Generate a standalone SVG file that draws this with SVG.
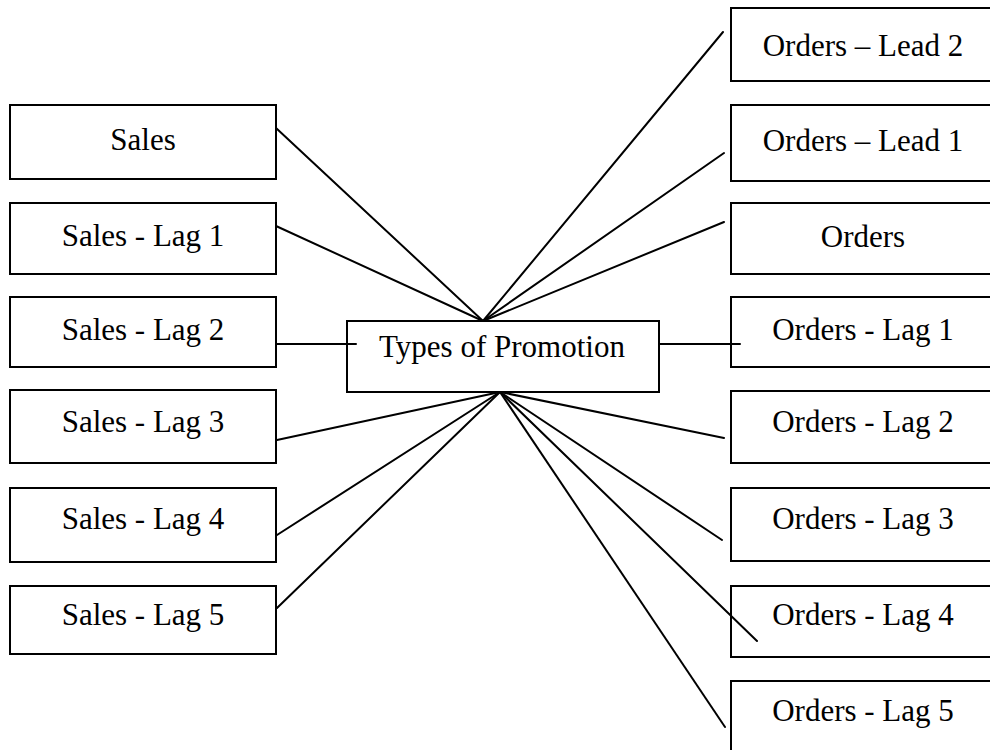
<svg xmlns="http://www.w3.org/2000/svg" width="990" height="750" viewBox="0 0 990 750">
  <style>
    .box { fill: #ffffff; stroke: #000000; stroke-width: 2; }
    .lbl { font-family: "Liberation Serif", "Times New Roman", serif; font-size: 31px; fill: #000000; text-anchor: middle; }
    .link { stroke: #000000; stroke-width: 2; fill: none; stroke-linecap: round; }
  </style>
  <rect x="0" y="0" width="990" height="750" fill="#ffffff"/>

  <!-- connectors: left column, right column and the two horizontal links -->
  <g id="connectors">
    <line class="link" x1="276" y1="128" x2="483" y2="321"/>
    <line class="link" x1="276" y1="226" x2="483" y2="321"/>
    <line class="link" x1="723" y1="32" x2="483" y2="321"/>
    <line class="link" x1="724" y1="153" x2="483" y2="321"/>
    <line class="link" x1="724" y1="222" x2="483" y2="321"/>
    <line class="link" x1="276" y1="344" x2="356" y2="344"/>
    <line class="link" x1="659" y1="344" x2="740" y2="344"/>
    <line class="link" x1="277" y1="440" x2="500" y2="392"/>
    <line class="link" x1="277" y1="535" x2="500" y2="392"/>
    <line class="link" x1="277" y1="608" x2="500" y2="392"/>
    <line class="link" x1="724" y1="438" x2="500" y2="392"/>
    <line class="link" x1="722" y1="540" x2="500" y2="392"/>
    <line class="link" x1="757" y1="641" x2="500" y2="392"/>
    <line class="link" x1="725" y1="727" x2="500" y2="392"/>
  </g>

  <!-- central node -->
  <g id="types-of-promotion">
    <rect class="box" x="347" y="321" width="312" height="71" fill-opacity="0"/>
    <text class="lbl" x="502" y="357">Types of Promotion</text>
  </g>

  <!-- left column -->
  <g id="sales">
    <rect class="box" x="10" y="105" width="266" height="74" fill-opacity="0"/>
    <text class="lbl" x="143" y="150">Sales</text>
  </g>
  <g id="sales-lag-1">
    <rect class="box" x="10" y="203" width="266" height="71" fill-opacity="0"/>
    <text class="lbl" x="143" y="246">Sales - Lag 1</text>
  </g>
  <g id="sales-lag-2">
    <rect class="box" x="10" y="297" width="266" height="70" fill-opacity="0"/>
    <text class="lbl" x="143" y="340">Sales - Lag 2</text>
  </g>
  <g id="sales-lag-3">
    <rect class="box" x="10" y="390" width="266" height="73" fill-opacity="0"/>
    <text class="lbl" x="143" y="432">Sales - Lag 3</text>
  </g>
  <g id="sales-lag-4">
    <rect class="box" x="10" y="488" width="266" height="74" fill-opacity="0"/>
    <text class="lbl" x="143" y="529">Sales - Lag 4</text>
  </g>
  <g id="sales-lag-5">
    <rect class="box" x="10" y="586" width="266" height="68" fill-opacity="0"/>
    <text class="lbl" x="143" y="625">Sales - Lag 5</text>
  </g>

  <!-- right column (boxes run past the right edge) -->
  <g id="orders-lead-2">
    <rect class="box" x="731" y="8" width="280" height="73" fill-opacity="0"/>
    <text class="lbl" x="863" y="56">Orders – Lead 2</text>
  </g>
  <g id="orders-lead-1">
    <rect class="box" x="731" y="105" width="280" height="76" fill-opacity="0"/>
    <text class="lbl" x="863" y="151">Orders – Lead 1</text>
  </g>
  <g id="orders">
    <rect class="box" x="731" y="203" width="280" height="71" fill-opacity="0"/>
    <text class="lbl" x="863" y="247">Orders</text>
  </g>
  <g id="orders-lag-1">
    <rect class="box" x="731" y="297" width="280" height="70" fill-opacity="0"/>
    <text class="lbl" x="863" y="340">Orders - Lag 1</text>
  </g>
  <g id="orders-lag-2">
    <rect class="box" x="731" y="391" width="280" height="72" fill-opacity="0"/>
    <text class="lbl" x="863" y="432">Orders - Lag 2</text>
  </g>
  <g id="orders-lag-3">
    <rect class="box" x="731" y="488" width="280" height="73" fill-opacity="0"/>
    <text class="lbl" x="863" y="529">Orders - Lag 3</text>
  </g>
  <g id="orders-lag-4">
    <rect class="box" x="731" y="586" width="280" height="71" fill-opacity="0"/>
    <text class="lbl" x="863" y="625">Orders - Lag 4</text>
  </g>
  <g id="orders-lag-5">
    <rect class="box" x="731" y="681" width="280" height="80" fill-opacity="0"/>
    <text class="lbl" x="863" y="721">Orders - Lag 5</text>
  </g>
</svg>
